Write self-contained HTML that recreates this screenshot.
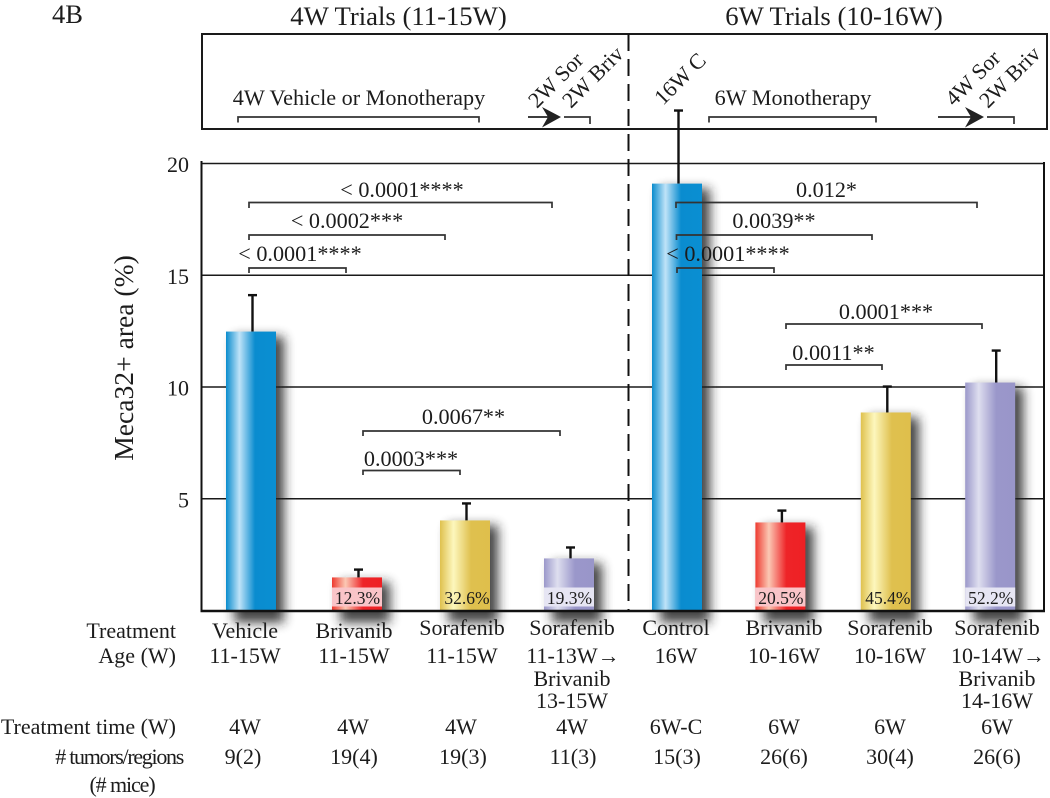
<!DOCTYPE html>
<html lang="en">
<head>
<meta charset="utf-8">
<title>Meca32+ area chart</title>
<style>
html,body{margin:0;padding:0;background:#fff;}
svg{display:block;}
text{font-family:"Liberation Serif",serif;fill:#1c1c1c;}
.c{text-anchor:middle;}
.r{text-anchor:end;}
.lbl{font-size:22px;}
.p{font-size:22.2px;text-anchor:middle;}
.br{fill:none;stroke:#333;stroke-width:1.7;}
</style>
</head>
<body>
<svg id="chart" xmlns="http://www.w3.org/2000/svg" width="1050" height="798" viewBox="0 0 1050 798">
  <defs>
    <linearGradient id="g-blue" x1="0" x2="1" y1="0" y2="0"><stop offset="0" stop-color="#0a8ccd"/><stop offset=".27" stop-color="#bfe3f8"/><stop offset=".58" stop-color="#0a8ccf"/><stop offset="1" stop-color="#0a8fd2"/></linearGradient>
    <linearGradient id="g-red" x1="0" x2="1" y1="0" y2="0"><stop offset="0" stop-color="#ee3a30"/><stop offset=".27" stop-color="#fbc8b4"/><stop offset=".62" stop-color="#ee2428"/><stop offset="1" stop-color="#ee2024"/></linearGradient>
    <linearGradient id="g-yellow" x1="0" x2="1" y1="0" y2="0"><stop offset="0" stop-color="#dfc14e"/><stop offset=".27" stop-color="#fdf7bd"/><stop offset=".62" stop-color="#dfc04e"/><stop offset="1" stop-color="#dfbf4c"/></linearGradient>
    <linearGradient id="g-purple" x1="0" x2="1" y1="0" y2="0"><stop offset="0" stop-color="#9b98ca"/><stop offset=".27" stop-color="#dedeef"/><stop offset=".62" stop-color="#9a97ca"/><stop offset="1" stop-color="#9996c9"/></linearGradient>
    <filter id="soft" x="-60%" y="-60%" width="220%" height="220%"><feGaussianBlur stdDeviation="5.500"/></filter>
  </defs>

  <text x="52" y="23" font-size="26.500">4B</text>
  <text x="398.500" y="25" font-size="26.700" class="c">4W Trials (11-15W)</text>
  <text x="834" y="25" font-size="26.700" class="c">6W Trials (10-16W)</text>

  <rect x="202" y="34" width="845" height="95" fill="none" stroke="#1a1a1a" stroke-width="2"/>

  <g id="grid"></g>
  <g id="ylabels"></g>
  <line x1="201.500" y1="161" x2="201.500" y2="611" stroke="#111" stroke-width="2"/>
  <line x1="1044" y1="162" x2="1044" y2="611" stroke="#111" stroke-width="2"/>
  <text transform="translate(133,358) rotate(-90)" font-size="27.600" class="c">Meca32+ area (%)</text>

  <g id="bars"></g>
  <line x1="200.500" y1="611" x2="1045" y2="611" stroke="#111" stroke-width="2.400"/>
  <line x1="628.500" y1="34" x2="628.500" y2="610" stroke="#111" stroke-width="2" stroke-dasharray="17 8"/>

  <g>
    <text class="p" x="359" y="105">4W Vehicle or Monotherapy</text>
    <path class="br" d="M238 122.500V117H479V122.500"/>
    <text class="lbl" transform="translate(537,109) rotate(-45)">2W Sor</text>
    <text class="lbl" transform="translate(571,109) rotate(-45)">2W Briv</text>
    <line x1="528" y1="117" x2="555" y2="117" stroke="#222" stroke-width="1.800"/>
    <polygon points="561,117 542,107 548,117 542,127.500" fill="#222"/>
    <path class="br" d="M564 117H590V124"/>
    <text class="lbl" transform="translate(663,106) rotate(-45)">16W C</text>
    <text class="p" x="793" y="105">6W Monotherapy</text>
    <path class="br" d="M709 122.500V117H876V122.500"/>
    <text class="lbl" transform="translate(954,107) rotate(-45)">4W Sor</text>
    <text class="lbl" transform="translate(988,109) rotate(-45)">2W Briv</text>
    <line x1="938" y1="117" x2="978" y2="117" stroke="#222" stroke-width="1.800"/>
    <polygon points="984,117 965,107 971,117 965,127.500" fill="#222"/>
    <path class="br" d="M987 117H1014V124"/>
  </g>

  <g>
    <path class="br" d="M249 208V202.500H552V208"/>
    <text class="p" x="402" y="197">&lt; 0.0001****</text>
    <path class="br" d="M249 240V235H445V240"/>
    <text class="p" x="347" y="228">&lt; 0.0002***</text>
    <path class="br" d="M249 273V268H346V273"/>
    <text class="p" x="300" y="261">&lt; 0.0001****</text>
    <path class="br" d="M363 436V431H560V436"/>
    <text class="p" x="463.500" y="424">0.0067**</text>
    <path class="br" d="M363 475V470.500H460V475"/>
    <text class="p" x="411" y="466">0.0003***</text>

    <path class="br" d="M676 208V202.500H977V208"/>
    <text class="p" x="826.500" y="197">0.012*</text>
    <path class="br" d="M676.500 240V235H872V240"/>
    <text class="p" x="774" y="228">0.0039**</text>
    <path class="br" d="M677 273V268H774V273"/>
    <text class="p" x="728" y="261">&lt; 0.0001****</text>
    <path class="br" d="M786 329V324H982V329"/>
    <text class="p" x="886" y="319">0.0001***</text>
    <path class="br" d="M786 370V365H882V370"/>
    <text class="p" x="833.500" y="360">0.0011**</text>
  </g>

  <g>
    <text class="lbl r" x="176" y="638">Treatment</text>
    <text class="lbl r" x="176" y="663">Age (W)</text>
    <text class="lbl r" x="176" y="734">Treatment time (W)</text>
    <text class="lbl r" x="183" y="764" letter-spacing="-1.300"># tumors/regions</text>
    <text class="lbl c" x="122" y="792" letter-spacing="-1.100">(# mice)</text>
  </g>

  <g class="c">
    <text class="lbl c" x="245" y="638">Vehicle</text>
    <text class="lbl c" x="245" y="663">11-15W</text>
    <text class="lbl c" x="354" y="638">Brivanib</text>
    <text class="lbl c" x="354" y="663">11-15W</text>
    <text class="lbl c" x="462" y="635">Sorafenib</text>
    <text class="lbl c" x="462" y="663">11-15W</text>
    <text class="lbl c" x="572" y="635">Sorafenib</text>
    <text class="lbl c" x="573" y="663">11-13W→</text>
    <text class="lbl c" x="572" y="686">Brivanib</text>
    <text class="lbl c" x="572" y="708">13-15W</text>
    <text class="lbl c" x="676" y="635">Control</text>
    <text class="lbl c" x="676" y="663">16W</text>
    <text class="lbl c" x="784" y="635">Brivanib</text>
    <text class="lbl c" x="784" y="663">10-16W</text>
    <text class="lbl c" x="890" y="635">Sorafenib</text>
    <text class="lbl c" x="890" y="663">10-16W</text>
    <text class="lbl c" x="997" y="635">Sorafenib</text>
    <text class="lbl c" x="998" y="663">10-14W→</text>
    <text class="lbl c" x="997" y="686">Brivanib</text>
    <text class="lbl c" x="997" y="708">14-16W</text>

    <text class="lbl c" x="245" y="734">4W</text>
    <text class="lbl c" x="353" y="734">4W</text>
    <text class="lbl c" x="461" y="734">4W</text>
    <text class="lbl c" x="572" y="734">4W</text>
    <text class="lbl c" x="676" y="734">6W-C</text>
    <text class="lbl c" x="784" y="734">6W</text>
    <text class="lbl c" x="890" y="734">6W</text>
    <text class="lbl c" x="997" y="734">6W</text>

    <text class="lbl c" x="243" y="764">9(2)</text>
    <text class="lbl c" x="354" y="764">19(4)</text>
    <text class="lbl c" x="463" y="764">19(3)</text>
    <text class="lbl c" x="573" y="764">11(3)</text>
    <text class="lbl c" x="677" y="764">15(3)</text>
    <text class="lbl c" x="784" y="764">26(6)</text>
    <text class="lbl c" x="890" y="764">30(4)</text>
    <text class="lbl c" x="997" y="764">26(6)</text>
  </g>
</svg>
<script>
const categories = ["vehicle-4w", "brivanib-4w", "sorafenib-4w", "combo-4w", "control-6w", "brivanib-6w", "sorafenib-6w", "combo-6w"];
const means = [12.48, 1.48, 4.03, 2.33, 19.1, 3.94, 8.86, 10.2];
const errors = [1.63, 0.35, 0.76, 0.49, 3.27, 0.53, 1.16, 1.43];
const coverageLabels = ["", "12.3%", "32.6%", "19.3%", "", "20.5%", "45.4%", "52.2%"];
const barColors = ["blue", "red", "yellow", "purple", "blue", "red", "yellow", "purple"];
const yTicks = [5, 10, 15, 20];

const NS = "http://www.w3.org/2000/svg";
const BAR_W = 50;
function yScale(v) { return 610.5 - v * 22.35; }
function xCenter(i) {
  if (i < 4) return 251 + i * 106 + (i === 2 ? 2 : 0);
  return 677 + (i - 4) * 104.4 - (i === 5 ? 1 : 0);
}
function errX(i) { return xCenter(i) + (i === 7 ? 6 : 1.5); }
function make(tag, attrs, parent) {
  const el = document.createElementNS(NS, tag);
  for (const k in attrs) el.setAttribute(k, attrs[k]);
  parent.appendChild(el);
  return el;
}

const grid = document.getElementById("grid");
const ylabels = document.getElementById("ylabels");
yTicks.forEach(function (t) {
  const line = make("line", { x1: 201, x2: 1044, y1: yScale(t), y2: yScale(t), stroke: "#1a1a1a", "stroke-width": 1.5 }, grid);
  
  
  const label = make("text", { x: 189, y: yScale(t) + 8.5, "font-size": 22, "text-anchor": "end" }, ylabels);
  label.textContent = t;
  
  
});

const bars = document.getElementById("bars");
categories.forEach(function (cat, i) {
  const cx = xCenter(i);
  const left = cx - BAR_W / 2;
  const top = yScale(means[i]);
  const h = yScale(0) - top;

  const shadow = make("rect", { x: left + 8, y: top + 5, width: BAR_W, height: h + 7, fill: "#222", opacity: 0.85, filter: "url(#soft)" }, bars);
  
  

  const ex = errX(i);
  const errTop = yScale(means[i] + errors[i]);
  const stem = make("line", { x1: ex, x2: ex, y1: top, y2: errTop, stroke: "#111", "stroke-width": 2.4 }, bars);
  
  
  const cap = make("line", { x1: ex - 4.5, x2: ex + 4.5, y1: errTop, y2: errTop, stroke: "#111", "stroke-width": 2.4 }, bars);
  
  

  const bar = make("rect", { x: left, y: top, width: BAR_W, height: h, fill: "url(#g-" + barColors[i] + ")" }, bars);
  
  

  const label = coverageLabels[i];
  if (label) {
    if (barColors[i] !== "yellow") {
      const box = make("rect", { x: left, y: 587.5, width: BAR_W, height: 19, fill: barColors[i] === "red" ? "#f9c4c8" : "#e6e5f3" }, bars);
      
      
    }
    const txt = make("text", { x: cx + (barColors[i] === "yellow" ? 2 : 0.5), y: 604, "font-size": 17.5, "text-anchor": "middle" }, bars);
    txt.textContent = label;
    
    
  }
});
</script>
</body>
</html>
